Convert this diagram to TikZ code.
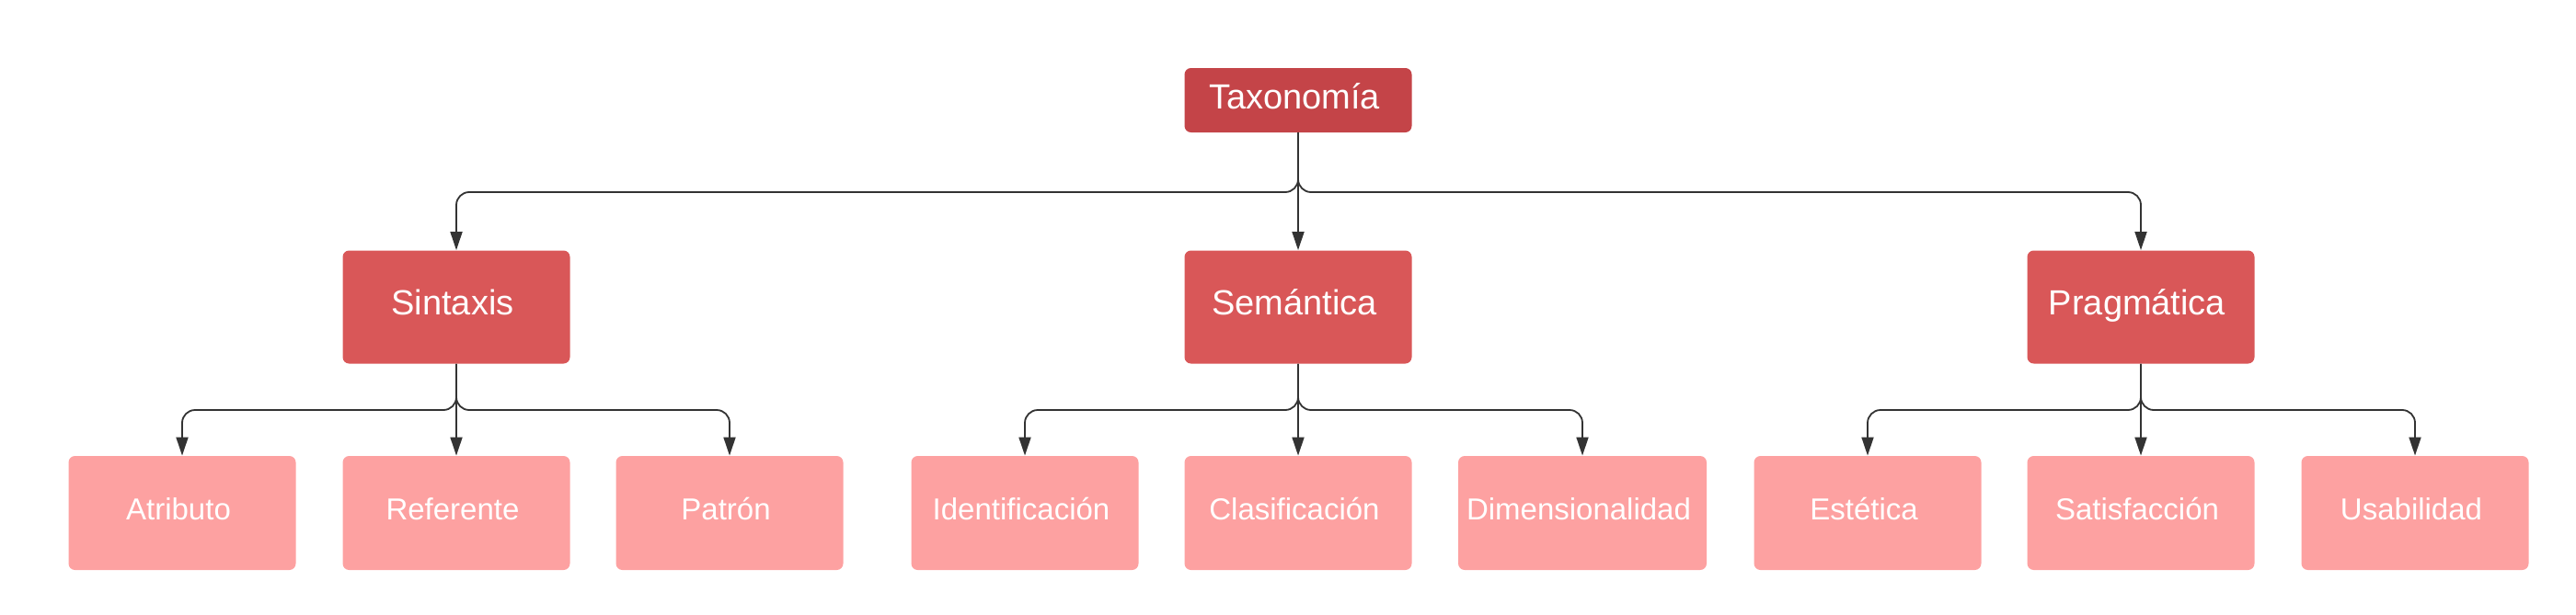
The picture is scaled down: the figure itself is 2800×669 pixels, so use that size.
\documentclass[tikz,border=0pt]{standalone}
\usepackage{fontspec}
\setmainfont{Liberation Sans}
\usetikzlibrary{arrows.meta}
\definecolor{lvlA}{HTML}{C44448}
\definecolor{lvlB}{HTML}{D95758}
\definecolor{lvlC}{HTML}{FDA1A1}
\definecolor{linec}{HTML}{333333}
\begin{document}
\begin{tikzpicture}[x=0.5pt,y=-0.5pt,
  box/.style={rectangle, rounded corners=3.5pt, text=white, inner sep=0pt,
    minimum width=123.5pt, execute at end node={\kern4pt}},
  topbox/.style={box, fill=lvlA, minimum height=35pt, font=\fontsize{19}{22}\selectfont,
    text height=13.6pt, text depth=4pt},
  midbox/.style={box, fill=lvlB, minimum height=61.5pt, font=\fontsize{19}{22}\selectfont,
    text height=13.6pt, text depth=5pt},
  leafbox/.style={box, fill=lvlC, minimum height=62pt, font=\fontsize{16.5}{19}\selectfont,
    text height=11.8pt, text depth=4pt},
  conn/.style={draw=linec, line width=0.9pt, rounded corners=7pt,
    -{Triangle[length=10pt,width=6.5pt]}}]
\useasboundingbox (0,0) rectangle (2800,669);
% level 1
\node[topbox] (tax) at (1411,109) {Taxonomía};
% level 2
\node[midbox] (sin) at (496,334) {Sintaxis};
\node[midbox] (sem) at (1411,334) {Semántica};
\node[midbox] (pra) at (2327,334) {Pragmática};
% level 3
\node[leafbox] (atr) at (198,558) {Atributo};
\node[leafbox] (ref) at (496,558) {Referente};
\node[leafbox] (pat) at (793,558) {Patrón};
\node[leafbox] (ide) at (1114,558) {Identificación};
\node[leafbox] (cla) at (1411,558) {Clasificación};
\node[leafbox, minimum width=135pt] (dim) at (1720,558) {Dimensionalidad};
\node[leafbox] (est) at (2030,558) {Estética};
\node[leafbox] (sat) at (2327,558) {Satisfacción};
\node[leafbox] (usa) at (2625,558) {Usabilidad};
% connectors level 1 -> 2
\draw[conn] (tax.south) -- (tax.south |- 0,209) -| (sin.north);
\draw[conn] (tax.south) -- (sem.north);
\draw[conn] (tax.south) -- (tax.south |- 0,209) -| (pra.north);
% connectors level 2 -> 3
\draw[conn] (sin.south) -- (sin.south |- 0,446) -| (atr.north);
\draw[conn] (sin.south) -- (ref.north);
\draw[conn] (sin.south) -- (sin.south |- 0,446) -| (pat.north);
\draw[conn] (sem.south) -- (sem.south |- 0,446) -| (ide.north);
\draw[conn] (sem.south) -- (cla.north);
\draw[conn] (sem.south) -- (sem.south |- 0,446) -| (dim.north);
\draw[conn] (pra.south) -- (pra.south |- 0,446) -| (est.north);
\draw[conn] (pra.south) -- (sat.north);
\draw[conn] (pra.south) -- (pra.south |- 0,446) -| (usa.north);
\end{tikzpicture}
\end{document}
